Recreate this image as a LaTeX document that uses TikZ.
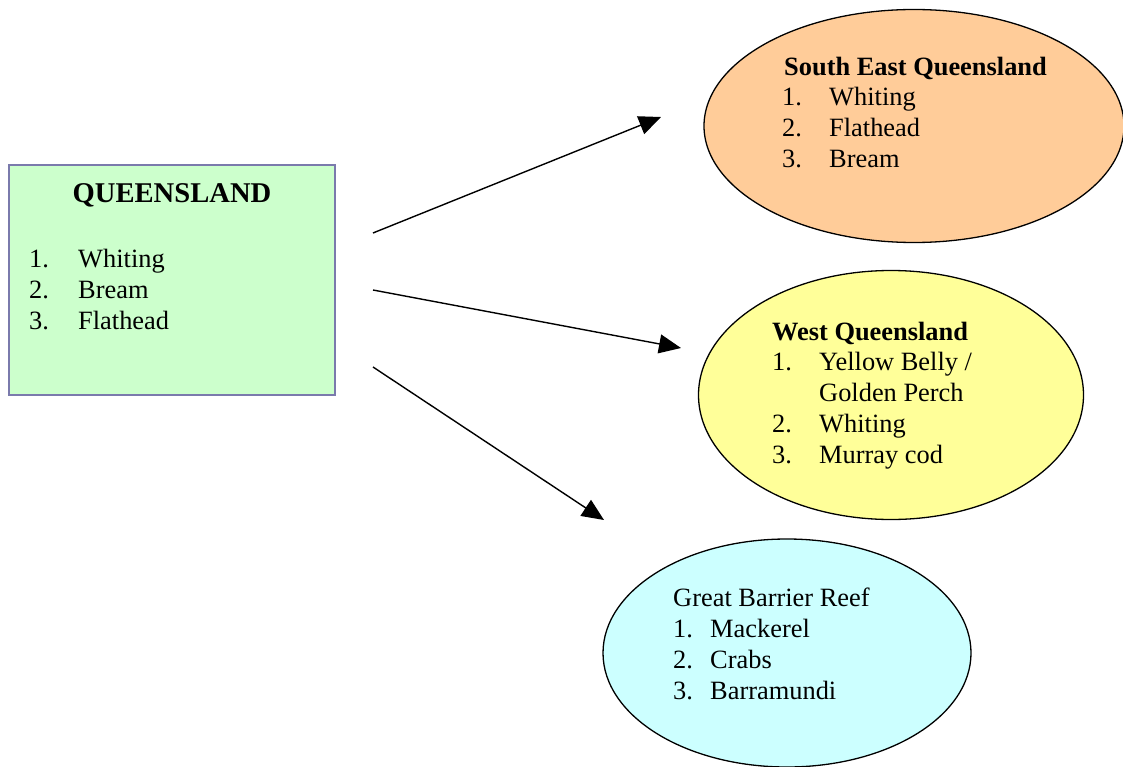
\documentclass[tikz,border=0pt]{standalone}
\usepackage{fontspec}
\setmainfont{Liberation Serif}
\usetikzlibrary{arrows.meta,shapes.geometric}
\definecolor{boxgreen}{HTML}{CCFFCC}
\definecolor{boxline}{RGB}{122,122,172}
\definecolor{seorange}{HTML}{FFCC99}
\definecolor{wyellow}{HTML}{FFFF99}
\definecolor{reefcyan}{HTML}{CCFFFF}
\tikzset{
  region/.style={ellipse, draw=black, line width=1.3pt, inner sep=0pt},
  txt/.style={anchor=base west, inner sep=0pt, font=\fontsize{26.4}{31}\selectfont},
  head/.style={txt, font=\fontsize{26.4}{31}\selectfont\bfseries},
  flow/.style={line width=1.4pt, -{Triangle[length=22pt,width=19pt]}}
}
\begin{document}
\begin{tikzpicture}[x=1pt,y=-1pt]
\useasboundingbox (0,0) rectangle (1123,767);

% state box
\node[draw=boxline, fill=boxgreen, line width=1.3pt, minimum width=326pt, minimum height=230pt, inner sep=0pt] (qld) at (172,280) {};
\node[anchor=base, inner sep=0pt, font=\fontsize{28.6}{31}\selectfont\bfseries] (qldt) at (172,203) {QUEENSLAND};
\node[txt] (q1n) at (29,267) {1.};  \node[txt] (q1) at (78,267) {Whiting};
\node[txt] (q2n) at (29,298) {2.};  \node[txt] (q2) at (78,298) {Bream};
\node[txt] (q3n) at (29,329) {3.};  \node[txt] (q3) at (78,329) {Flathead};

% south east
\node[region, fill=seorange, minimum width=420pt, minimum height=233pt] (se) at (914,126) {};
\node[head] (set) at (784,76) {South East Queensland};
\node[txt] (s1n) at (782,106) {1.};  \node[txt] (s1) at (829,106) {Whiting};
\node[txt] (s2n) at (782,137) {2.};  \node[txt] (s2) at (829,137) {Flathead};
\node[txt] (s3n) at (782,168) {3.};  \node[txt] (s3) at (829,168) {Bream};

% west
\node[region, fill=wyellow, minimum width=385pt, minimum height=249pt] (wq) at (891,395) {};
\node[head] (wqt) at (772,340) {West Queensland};
\node[txt] (w1n) at (772,370) {1.};  \node[txt] (w1) at (819,370) {Yellow Belly /};
\node[txt] (w1b) at (819,401) {Golden Perch};
\node[txt] (w2n) at (772,432) {2.};  \node[txt] (w2) at (819,432) {Whiting};
\node[txt] (w3n) at (772,463) {3.};  \node[txt] (w3) at (819,463) {Murray cod};

% reef
\node[region, fill=reefcyan, minimum width=368pt, minimum height=228pt] (gbr) at (787,653) {};
\node[txt] (gbrt) at (673,606) {Great Barrier Reef};
\node[txt] (g1n) at (673,637) {1.};  \node[txt] (g1) at (710,637) {Mackerel};
\node[txt] (g2n) at (673,668) {2.};  \node[txt] (g2) at (710,668) {Crabs};
\node[txt] (g3n) at (673,699) {3.};  \node[txt] (g3) at (710,699) {Barramundi};

% connectors
\coordinate (a1s) at (373,233); \coordinate (a1e) at (661,117);
\coordinate (a2s) at (373,290); \coordinate (a2e) at (681,348);
\coordinate (a3s) at (373,367); \coordinate (a3e) at (604,520);
\draw[flow] (a1s) -- (a1e);
\draw[flow] (a2s) -- (a2e);
\draw[flow] (a3s) -- (a3e);
\end{tikzpicture}
\end{document}
